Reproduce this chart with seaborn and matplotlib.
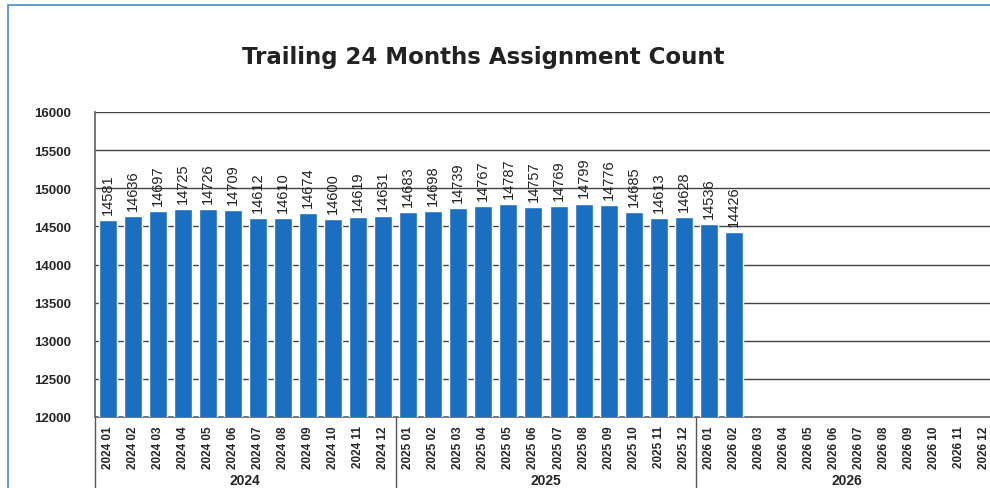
import numpy as np
import pandas as pd
import matplotlib
matplotlib.use("Agg")
import matplotlib.pyplot as plt
import seaborn as sns
from matplotlib.patches import Rectangle

# Data
years = ["2024", "2025", "2026"]
months = ["01", "02", "03", "04", "05", "06", "07", "08", "09", "10", "11", "12"]
periods = [f"{y} {m}" for y in years for m in months]
counts = [14581, 14636, 14697, 14725, 14726, 14709, 14612, 14610, 14674, 14600, 14619, 14631,
          14683, 14698, 14739, 14767, 14787, 14757, 14769, 14799, 14776, 14685, 14613, 14628,
          14536, 14426]
y_ticks = [12000, 12500, 13000, 13500, 14000, 14500, 15000, 15500, 16000]

df = pd.DataFrame({"period": periods,
                   "count": counts + [np.nan] * (len(periods) - len(counts))})

sns.set_theme(style="white")
plt.rcParams['font.family'] = ['Liberation Sans', 'DejaVu Sans']

fig = plt.figure(figsize=(9.9, 4.89), dpi=100)
ax = fig.add_axes([95 / 990, 71 / 489, 902 / 990, 305 / 489])

bar_color = "#1a6fc0"
sns.barplot(data=df, x="period", y="count", order=periods, color=bar_color,
            width=0.72, saturation=1, ax=ax, zorder=3)

ax.set_ylim(12000, 16000)
ax.set_xlim(-0.5, len(periods) - 0.5)
ax.set_yticks(y_ticks)
ax.set_yticklabels([str(t) for t in y_ticks], fontsize=9.5, fontweight="bold")
ax.yaxis.grid(True, color="#444444", linewidth=1.0, zorder=0)
ax.set_axisbelow(True)
ax.tick_params(axis="both", length=0)
ax.tick_params(axis="y", pad=17)
ax.set_xticks(range(len(periods)))
ax.set_xticklabels(periods, rotation=90, fontsize=8.5, fontweight="bold",
                   family=['Liberation Sans Narrow', 'Liberation Sans', 'DejaVu Sans'])
ax.tick_params(axis="x", pad=6)
ax.set_xlabel("")
ax.set_ylabel("")
for side in ["top", "right"]:
    ax.spines[side].set_visible(False)
ax.spines["left"].set_color("#666666")
ax.spines["bottom"].set_color("#666666")

# value labels
for i, v in enumerate(counts):
    ax.text(i, v + 80, str(v), rotation=90, ha="center", va="bottom",
            fontsize=10.5, color="#222222")

# year group separators and labels below the axis
tr = ax.get_xaxis_transform()
for x in [-0.5, 11.5, 23.5]:
    ax.plot([x, x], [0, -0.24], transform=tr, color="#555555", lw=1, clip_on=False)
for k, y in enumerate(years):
    ax.text(5.5 + 12 * k, -0.207, y, transform=tr, ha="center", va="center",
            fontsize=10, fontweight="bold")

fig.suptitle("Trailing 24 Months Assignment Count", x=0.488, y=0.905,
             fontsize=16.5, fontweight="bold", color="#222222", family="DejaVu Sans")

# outer border of the chart area
fig.patches.append(Rectangle((8 / 990, -0.1), 1.2, 1.1 - 6 / 489, transform=fig.transFigure,
                             fill=False, edgecolor="#4a8ac8", linewidth=1.2))

fig.savefig("out.png", dpi=100)
